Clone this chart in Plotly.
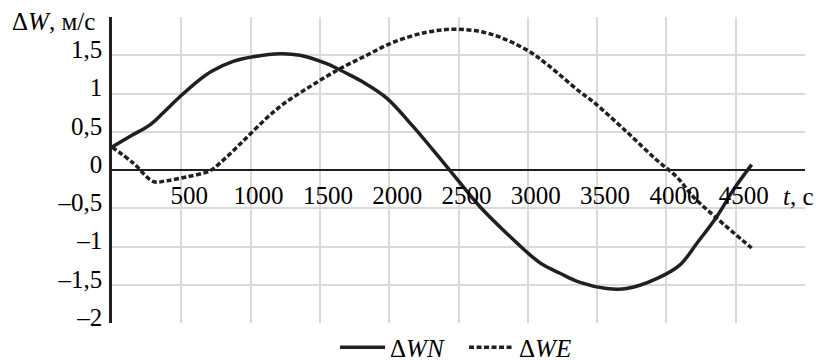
import plotly.graph_objects as go

# ΔWN (solid)
t_wn = [0, 150, 274, 368, 491, 611, 719, 874, 1019, 1212, 1356, 1549, 1621, 1717, 1811,
        1982, 2172, 2317, 2445, 2655, 2872, 3016, 3110, 3232, 3377, 3569, 3713, 3930,
        4098, 4219, 4363, 4483, 4615]
wn = [0.30, 0.46, 0.59, 0.745, 0.96, 1.15, 1.29, 1.42, 1.48, 1.52, 1.50, 1.39, 1.33, 1.24, 1.15,
      0.94, 0.57, 0.26, -0.02, -0.48, -0.87, -1.11, -1.24, -1.35, -1.47, -1.55, -1.55, -1.42,
      -1.24, -0.96, -0.61, -0.26, 0.07]

# ΔWE (dashed)
t_we = [0, 154, 298, 394, 539, 707, 779, 947, 1116, 1235, 1428, 1630, 1838, 2030, 2270,
        2487, 2727, 2992, 3146, 3377, 3473, 3713, 3930, 4074, 4194, 4363, 4615]
we = [0.30, 0.09, -0.15, -0.14, -0.09, -0.01, 0.09, 0.38, 0.68, 0.86, 1.09, 1.31, 1.50, 1.67, 1.80,
      1.84, 1.78, 1.57, 1.37, 1.02, 0.89, 0.50, 0.13, -0.09, -0.35, -0.63, -1.02]

x_tickvals = [0, 500, 1000, 1500, 2000, 2500, 3000, 3500, 4000, 4500, 5000]
x_ticktext = ["", "500", "1000", "1500", "2000", "2500", "3000", "3500", "4000", "4500", ""]
y_tickvals = [-2, -1.5, -1, -0.5, 0, 0.5, 1, 1.5, 2]
y_ticktext = ["–2", "–1,5", "–1", "–0,5", "0", "0,5", "1", "1,5", ""]

FONT = "Liberation Serif"
INK = "#231f20"
FS = 25

fig = go.Figure()
fig.add_trace(go.Scatter(x=t_wn, y=wn, mode="lines", name="Δ<i>WN</i>",
                         line=dict(color=INK, width=3.5), line_shape="spline"))
fig.add_trace(go.Scatter(x=t_we, y=we, mode="lines", name="Δ<i>WE</i>",
                         line=dict(color=INK, width=3.5, dash="5px,2.5px"), line_shape="spline"))

fig.update_layout(
    width=816, height=360,
    margin=dict(l=112, r=11, t=17, b=37, autoexpand=False),
    plot_bgcolor="white", paper_bgcolor="white",
    font=dict(family=FONT, size=FS, color="black"),
    showlegend=True,
    legend=dict(orientation="h", x=0.508, xanchor="center", y=-0.005, yanchor="top",
                font=dict(family=FONT, size=FS), bgcolor="rgba(0,0,0,0)",
                itemwidth=45, entrywidth=69, tracegroupgap=0),
    xaxis=dict(range=[0, 5000], tickvals=x_tickvals, ticktext=x_ticktext,
               tickfont=dict(family=FONT, size=FS),
               showgrid=True, gridcolor="#d9d9d9", gridwidth=2,
               showline=True, linecolor=INK, linewidth=2,
               anchor="free", position=0.5, ticks="",
               ticklabelshift=8, ticklabelstandoff=3, zeroline=False),
    yaxis=dict(range=[-2, 2], tickvals=y_tickvals, ticktext=y_ticktext,
               tickfont=dict(family=FONT, size=FS),
               showgrid=True, gridcolor="#d9d9d9", gridwidth=2,
               showline=True, linecolor=INK, linewidth=2.5, ticks="",
               ticklabelshift=-6, ticklabelstandoff=2, zeroline=False),
    annotations=[
        dict(text="Δ<i>W</i>, м/с", xref="paper", yref="paper", x=-0.022, y=0.985,
             xanchor="right", yanchor="middle", showarrow=False,
             font=dict(family=FONT, size=FS)),
        dict(text="<i>t</i>, с", xref="paper", yref="paper", x=0.966, y=0.414,
             xanchor="left", yanchor="middle", showarrow=False,
             font=dict(family=FONT, size=FS)),
    ],
)

fig.write_html("out.html")
